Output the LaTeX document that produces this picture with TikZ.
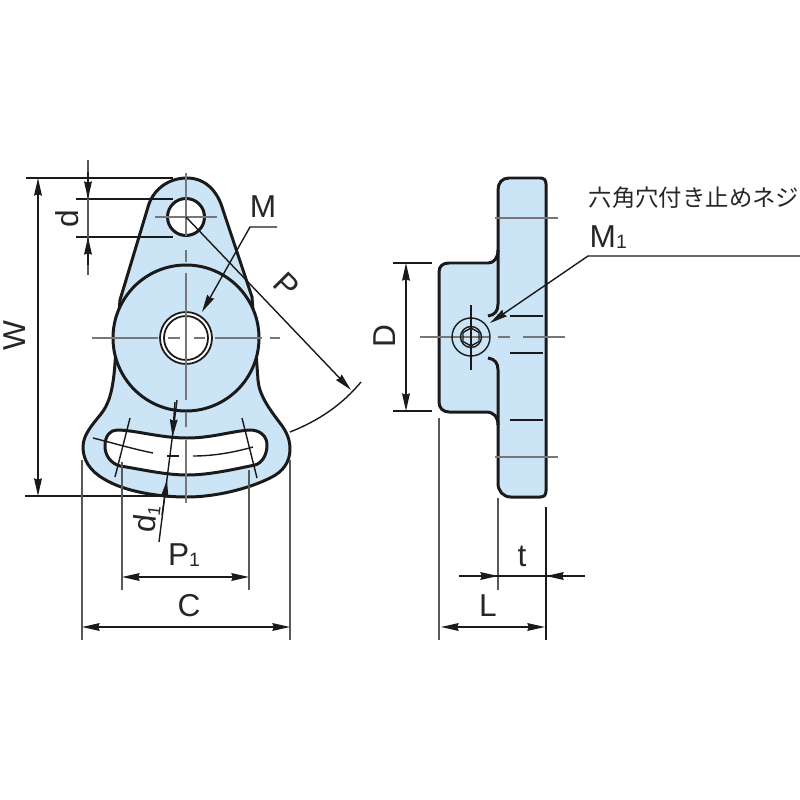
\documentclass[tikz,border=0pt]{standalone}
\usepackage{fontspec}
\setmainfont{Liberation Sans}
\newfontfamily\cjk{Noto Sans CJK JP}
\usetikzlibrary{arrows.meta}
\definecolor{partblue}{HTML}{CBE4F6}
\definecolor{cl}{HTML}{777777}
\definecolor{ink}{HTML}{1A1A1A}
\tikzset{
  x=0.01cm,y=-0.01cm,
  outline/.style={draw=ink,line width=0.85pt,line join=round},
  partfill/.style={outline,fill=partblue},
  holefill/.style={outline,fill=white},
  center/.style={draw=cl,line width=0.6pt},
  thin/.style={draw=ink,line width=0.4pt},
  ext/.style={draw=black!65,line width=0.5pt},
  hid/.style={draw=ink,line width=0.7pt},
  tip/.style={-{Stealth[length=5pt,width=2.2pt,inset=0.4pt]}},
  both/.style={{Stealth[length=5pt,width=2.2pt,inset=0.4pt]}-{Stealth[length=5pt,width=2.2pt,inset=0.4pt]}},
  lab/.style={font=\fontsize{9}{9}\selectfont,text=black!85,inner sep=0pt},
}
\begin{document}
\begin{tikzpicture}
\useasboundingbox (0,0) rectangle (800,800);
% ---- front view
\path[partfill] (120,300) -- (148,207)
  .. controls (152,192) and (166,178) .. (187,178)
  .. controls (206,178) and (218,192) .. (223,210)
  -- (252,297) -- (258,380)
  .. controls (259,395) and (270,410) .. (280,423)
  .. controls (287,432) and (290,440) .. (290,449)
  .. controls (290,462) and (283,472) .. (270,478)
  .. controls (248,489) and (215,497) .. (187,497)
  .. controls (160,497) and (125,492) .. (104,479)
  .. controls (90,471) and (83,460) .. (83,447)
  .. controls (83,435) and (92,425) .. (101,414)
  .. controls (108,405) and (113,393) .. (115,363) -- cycle;
\path[holefill] (117,430)
  .. controls (135,430) and (160,438) .. (187,438)
  .. controls (212,438) and (232,431) .. (250,430)
  .. controls (260,430) and (267,436) .. (267,445)
  .. controls (267,455) and (262,463) .. (255,465)
  .. controls (235,469) and (210,475) .. (187,475)
  .. controls (165,475) and (140,469) .. (120,466)
  .. controls (110,463) and (105,455) .. (105,446)
  .. controls (105,436) and (110,430) .. (117,430) -- cycle;
\path[partfill] (186,338) circle [radius=73];
\path[holefill] (186,217) circle [radius=18.5];
\path[holefill,line width=0.5pt] (186,338) circle [radius=26];
\path[holefill,line width=0.5pt] (186,338) circle [radius=22];
% centre lines
\draw[center] (186,173) -- (186,236);
\draw[center] (186,250) -- (186,262);
\draw[center] (186,273) -- (186,400);
\draw[center] (186,412) -- (186,427);
\draw[center] (186,440) -- (186,503);
\draw[center] (155,217) -- (217,217);
\draw[center] (92,338) -- (158,338);
\draw[center] (168,338) -- (180,338);
\draw[center] (194,338) -- (205,338);
\draw[center] (215,338) -- (262,338);
\draw[center] (270,338) -- (280,338);
% slot centre dashes
\draw[thin] (93,438) .. controls (113,443) and (133,449) .. (153,453);
\draw[thin] (167,456) -- (179,456);
\draw[thin] (193,456) .. controls (215,456) and (235,452) .. (253,447);
\draw[thin] (130,418) -- (115,477);
\draw[thin] (242,418) -- (257,478);
% d1
\draw[thin] (177,400) -- (159,542);
\coordinate (d1a) at (175,402);
\coordinate (d1b) at (172.5,437);
\draw[tip,thin] (d1a) -- (d1b);
\coordinate (d1c) at (162,515);
\coordinate (d1d) at (167,480);
\draw[tip,thin] (d1c) -- (d1d);
% M leader
\coordinate (mE) at (277,227);
\coordinate (mK) at (250,227);
\coordinate (mT) at (202,312);
\draw[tip,thin] (mE) -- (mK) -- (mT);
% P
\coordinate (pA) at (186,217);
\coordinate (pB) at (351,390);
\draw[tip,thin] (pA) -- (pB);
\draw[thin] (290,432) .. controls (318,421) and (342,405) .. (361,382);
% W, d
\draw[thin] (26,178) -- (173,178);
\draw[thin] (25,496) -- (170,496);
\draw[both,thin] (38,178) -- (38,496);
\draw[thin] (76,199) -- (173,199);
\draw[thin] (76,237) -- (173,237);
\draw[ext] (88,160) -- (88,275);
\draw[tip,thin] (88,172) -- (88,199);
\draw[tip,thin] (88,265) -- (88,237);
% P1, C
\draw[ext] (122,462) -- (122,590);
\draw[ext] (249,470) -- (249,590);
\draw[both,thin] (122,577) -- (249,577);
\draw[ext] (82,460) -- (82,640);
\draw[ext] (290,460) -- (290,640);
\draw[both,thin] (82,627) -- (290,627);
% ---- side view
\path[partfill] (498,250) -- (498,190)
  .. controls (498,183) and (502,178) .. (509,178)
  -- (540,178) .. controls (544,178) and (546,180) .. (546,184)
  -- (546,491) .. controls (546,495) and (544,497) .. (540,497)
  -- (511,497) .. controls (503,497) and (498,491) .. (498,483)
  -- (498,425) .. controls (498,417) and (494,412) .. (486,412)
  -- (449,412) .. controls (443,412) and (439,408) .. (439,402)
  -- (439,272) .. controls (439,266) and (443,263) .. (449,263)
  -- (488,263) .. controls (494,263) and (498,258) .. (498,250) -- cycle;
\draw[outline] (498,250) -- (498,304) .. controls (498,311) and (495,315) .. (488,316);
\draw[outline] (498,425) -- (498,370) .. controls (498,363) and (495,359) .. (488,358);
\draw[hid] (510,316) -- (543,316);
\draw[hid] (510,353) -- (543,353);
\draw[hid] (510,420) -- (543,420);
\draw[center] (495,218) -- (558,218);
\draw[center] (495,457) -- (558,457);
\draw[center] (420,337) -- (490,337);
\draw[center] (498,337) -- (510,337);
\draw[center] (523,337) -- (565,337);
\draw[thin] (471,305) -- (471,370);
\draw[thin] (471,337) circle [radius=19];
\draw[thin] (471,337) circle [radius=10.5];
\draw[thin] (471,328) -- (479,332.5) -- (479,341.5) -- (471,346) -- (463,341.5) -- (463,332.5) -- cycle;
\coordinate (m1E) at (800,256);
\coordinate (m1K) at (588,256);
\coordinate (m1T) at (490,323);
\draw[tip,thin] (m1E) -- (m1K) -- (m1T);
% D
\draw[thin] (393,263) -- (432,263);
\draw[thin] (393,411) -- (432,411);
\draw[both,thin] (406,263) -- (406,411);
\draw[ext,line width=0.7pt] (439,418) -- (439,640);
\draw[ext] (498,498) -- (498,590);
\draw[thin] (546,507) -- (546,640);
\draw[thin] (459,576) -- (585,576);
\draw[tip,thin] (470,576) -- (498,576);
\draw[tip,thin] (575,576) -- (546,576);
\draw[both,thin] (441,627) -- (545,627);
% ---- labels
\node[lab,rotate=90] (lW) at (15,336) {W};
\node[lab,rotate=90] (ld) at (67,219) {d};
\node[lab] (lM) at (263,207) {M};
\node[lab,rotate=-45] (lP) at (287,285) {P};
\node[lab,rotate=83] (ldi) at (146,519) {d\raisebox{-0.2ex}{\fontsize{5}{5}\selectfont 1}};
\node[lab] (lPi) at (184,555) {P\raisebox{-0.05ex}{\fontsize{5.5}{5.5}\selectfont 1}};
\node[lab] (lC) at (189,606) {C};
\node[lab,rotate=90] (lD) at (385,336) {D};
\node[lab] (lt) at (522,556) {t};
\node[lab] (lL) at (488,606) {L};
\node[lab,anchor=west] (lJ) at (588,198) {\cjk\fontsize{6.65}{6.65}\selectfont 六角穴付き止めネジ};
\node[lab,anchor=west] (lMi) at (589,237) {M\raisebox{-0.05ex}{\fontsize{5.5}{5.5}\selectfont 1}};
\end{tikzpicture}
\end{document}
